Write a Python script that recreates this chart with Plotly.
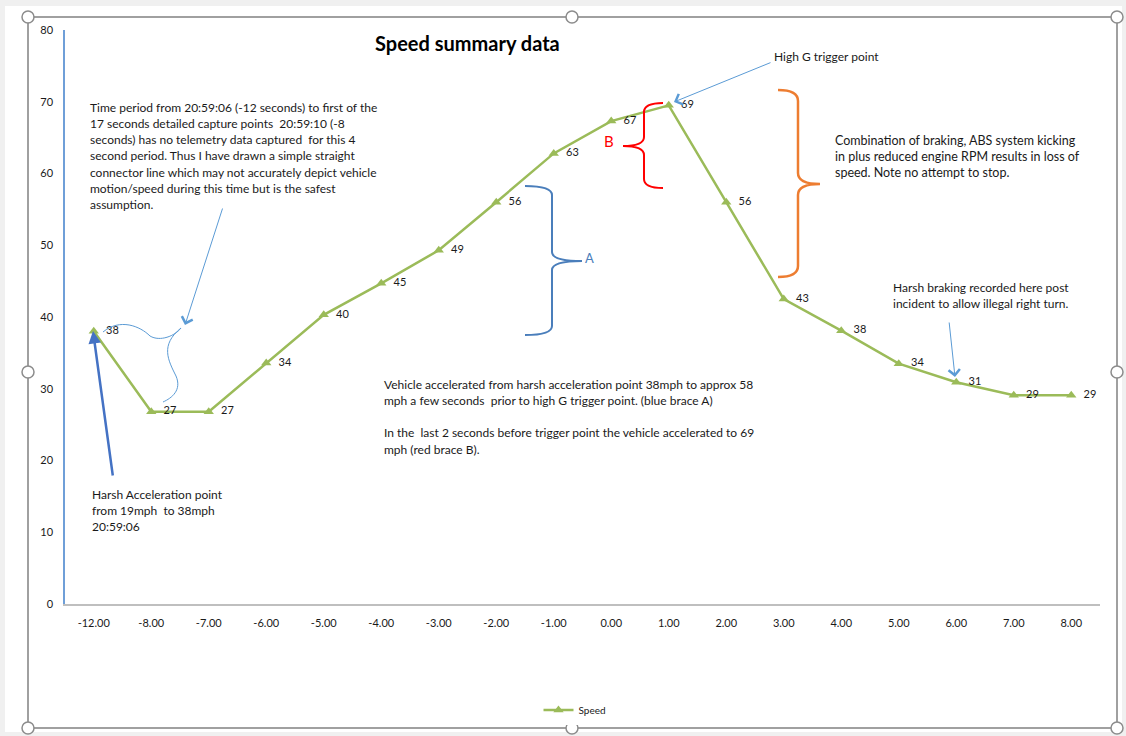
import plotly.graph_objects as go

# ---------------- data ----------------
time_labels = ["-12.00", "-8.00", "-7.00", "-6.00", "-5.00", "-4.00", "-3.00", "-2.00", "-1.00",
               "0.00", "1.00", "2.00", "3.00", "4.00", "5.00", "6.00", "7.00", "8.00"]
speed = [38.0, 26.8, 26.8, 33.6, 40.3, 44.7, 49.3, 56.0, 62.8,
         67.3, 69.5, 56.0, 42.5, 38.1, 33.5, 30.9, 29.1, 29.1]
speed_labels = ["38", "27", "27", "34", "40", "45", "49", "56", "63",
                "67", "69", "56", "43", "38", "34", "31", "29", "29"]
y_ticks = [0, 10, 20, 30, 40, 50, 60, 70, 80]

# ---------------- layout helpers (pixel -> paper) ----------------
W, H = 1126, 736
L, R, T, B = 65, 1100, 30, 604
FONT = "Lato"
TXT = "#1a1a1a"


def X(px):
    return (px - L) / (R - L)


def Y(py):
    return (B - py) / (B - T)


def path(cmds):
    out = []
    for c in cmds:
        if isinstance(c, str):
            out.append(c)
        else:
            out.append(f"{X(c[0]):.5f},{Y(c[1]):.5f}")
    return " ".join(out)


def brace(xe, xv, xt, y0, yt, y1, r=9):
    return path(["M", (xe, y0), "Q", (xv, y0), (xv, y0 + r), "L", (xv, yt - r),
                 "Q", (xv, yt), (xt, yt), "Q", (xv, yt), (xv, yt + r),
                 "L", (xv, y1 - r), "Q", (xv, y1), (xe, y1)])


fig = go.Figure()
fig.add_trace(go.Scatter(
    x=time_labels, y=speed, mode="lines+markers", name="Speed",
    line=dict(color="#9bbb59", width=2.5),
    marker=dict(symbol="triangle-up", size=9, color="#9bbb59"),
    cliponaxis=False,
))
# data labels (invisible wide markers push the text a little further right)
fig.add_trace(go.Scatter(
    x=time_labels, y=speed, mode="markers+text", showlegend=False, hoverinfo="skip",
    text=speed_labels, textposition="middle right",
    textfont=dict(family=FONT, size=11, color=TXT),
    marker=dict(size=18, opacity=0),
    cliponaxis=False,
))

shapes = []
# light grey outer strips
for (x0, y0, x1, y1) in [(0, 0, W, 6), (0, 0, 5, H), (1122, 0, W, H), (0, 732, W, H)]:
    shapes.append(dict(type="rect", xref="paper", yref="paper", x0=X(x0), x1=X(x1),
                       y0=Y(y1), y1=Y(y0), fillcolor="#f0f0f0", line=dict(width=0), layer="below"))
# selection frame
shapes.append(dict(type="rect", xref="paper", yref="paper", x0=X(28), x1=X(1117), y0=Y(728), y1=Y(17),
                   line=dict(color="#a0a0a0", width=2), fillcolor="rgba(0,0,0,0)", layer="below"))
# handles
for (cx, cy) in [(28, 17), (572, 17), (1117, 17), (28, 372), (1117, 372), (28, 728), (572, 728), (1117, 728)]:
    shapes.append(dict(type="circle", xref="paper", yref="paper", x0=X(cx - 6), x1=X(cx + 6),
                       y0=Y(cy + 6), y1=Y(cy - 6), fillcolor="white", line=dict(color="#8c8c8c", width=1.5)))
# braces
shapes.append(dict(type="path", xref="paper", yref="paper", path=brace(525, 552, 582, 186, 261, 335),
                   line=dict(color="#4a7ebb", width=2)))
shapes.append(dict(type="path", xref="paper", yref="paper", path=brace(663, 644, 623, 103, 146, 188),
                   line=dict(color="#ff0000", width=2)))
shapes.append(dict(type="path", xref="paper", yref="paper", path=brace(778, 798, 820, 90, 184, 277, r=11),
                   line=dict(color="#ed7d31", width=2.5)))
# squiggle near first point
shapes.append(dict(type="path", xref="paper", yref="paper",
                   path=path(["M", (103, 332), "C", (120, 318), (140, 326), (150, 336),
                              "C", (160, 342), (175, 336), (181, 328),
                              "C", (160, 345), (168, 360), (176, 376),
                              "C", (182, 390), (172, 398), (163, 402)]),
                   line=dict(color="#5b9bd5", width=1)))

annotations = []


def add_text(lines, x, y_first, spacing=16.3, size=12, color=TXT):
    for i, ln in enumerate(lines):
        annotations.append(dict(text=ln, xref="paper", yref="paper", x=X(x), y=Y(y_first + i * spacing),
                                xanchor="left", yanchor="middle", showarrow=False,
                                font=dict(family=FONT, size=size, color=color)))


annotations.append(dict(text="<b>Speed summary data</b>", xref="paper", yref="paper", x=X(467), y=Y(43),
                        xanchor="center", yanchor="middle", showarrow=False,
                        font=dict(family=FONT, size=20, color="#000000")))

add_text(["Time period from 20:59:06 (-12 seconds) to first of the",
          "17 seconds detailed capture points  20:59:10 (-8",
          "seconds) has no telemetry data captured  for this 4",
          "second period. Thus I have drawn a simple straight",
          "connector line which may not accurately depict vehicle",
          "motion/speed during this time but is the safest",
          "assumption."], 88, 107)
add_text(["Harsh Acceleration point", "from 19mph  to 38mph", "20:59:06"], 90, 494)
add_text(["High G trigger point"], 772, 57)
add_text(["Combination of braking, ABS system kicking",
          "in plus reduced engine RPM results in loss of",
          "speed. Note no attempt to stop."], 833, 140, size=12.5)
add_text(["Harsh braking recorded here post", "incident to allow illegal right turn."], 891, 287)
add_text(["Vehicle accelerated from harsh acceleration point 38mph to approx 58",
          "mph a few seconds  prior to high G trigger point. (blue brace A)",
          "",
          "In the  last 2 seconds before trigger point the vehicle accelerated to 69",
          "mph (red brace B)."], 382, 384)
add_text(["B"], 602, 141, size=15, color="#ff0000")
add_text(["A"], 583, 258, size=13, color="#4a7ebb")


def arrow(tail, head, color, width, head_style, size=1.0):
    annotations.append(dict(text="", xref="paper", yref="paper", x=X(head[0]), y=Y(head[1]),
                            ax=tail[0] - head[0], ay=tail[1] - head[1], showarrow=True,
                            arrowcolor=color, arrowwidth=width, arrowhead=head_style,
                            arrowsize=size, standoff=0))


arrow((113, 477), (93, 331), "#4472c4", 2.5, 2, 1.0)
arrow((223, 207), (185, 325), "#5b9bd5", 1, 4, 2.2)
arrow((772, 62), (674, 102), "#5b9bd5", 1, 4, 2.2)
arrow((949, 321), (955, 377), "#5b9bd5", 1, 4, 2.2)

fig.update_layout(
    width=W, height=H,
    margin=dict(l=L, r=W - R, t=T, b=H - B, pad=0),
    paper_bgcolor="white", plot_bgcolor="white",
    font=dict(family=FONT, size=11, color=TXT),
    showlegend=True,
    legend=dict(orientation="h", x=X(575), y=Y(710), xanchor="center", yanchor="middle",
                font=dict(family=FONT, size=10, color=TXT), itemwidth=30),
    shapes=shapes, annotations=annotations,
    xaxis=dict(type="category", range=[-0.5, len(time_labels) - 0.5], showgrid=False, zeroline=False,
               showline=True, linecolor="#bfbfbf", linewidth=1.5, ticks="", tickfont=dict(size=11, color=TXT),
               ticklabelstandoff=8, fixedrange=True),
    yaxis=dict(range=[0, 80], tickvals=y_ticks, showgrid=False, zeroline=False, showline=True,
               linecolor="#6f9fd8", linewidth=1.5, ticks="", tickfont=dict(size=11, color=TXT),
               ticklabelstandoff=8, fixedrange=True),
)

fig.write_html("out.html", config={"displayModeBar": False},
               post_script="document.body.style.margin='0';")
